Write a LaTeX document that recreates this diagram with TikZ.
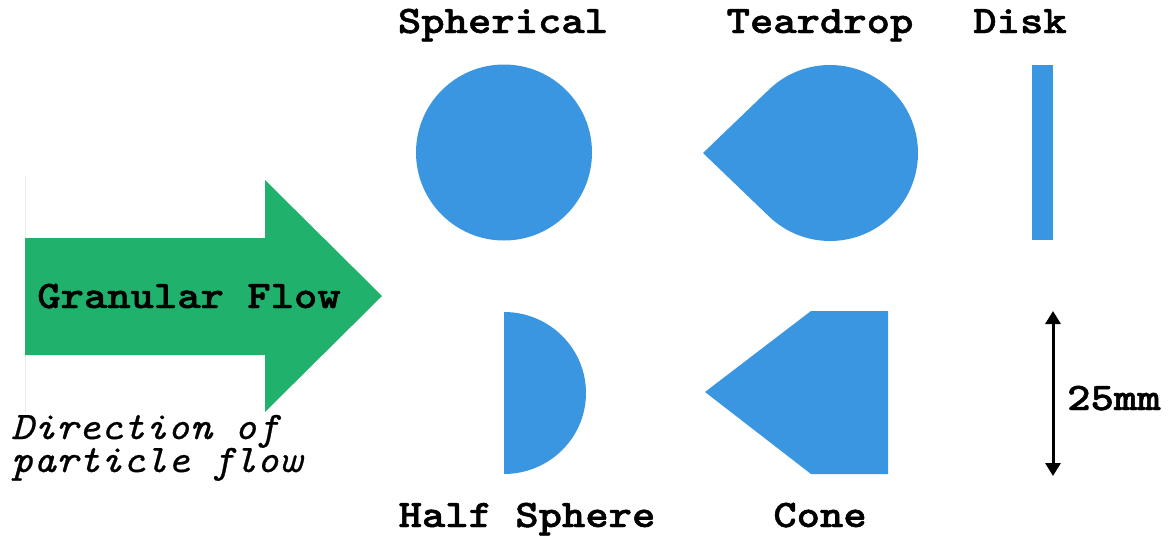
\documentclass[tikz,border=0pt]{standalone}
\usepackage{fontspec}
\newfontfamily\heavymono{lmmonolt10-bold.otf}[FakeBold=1.2]
\newfontfamily\slantmono{lmmono10-italic.otf}[FakeBold=0.6]
\usetikzlibrary{arrows.meta,calc}
\definecolor{shapeblue}{RGB}{59,150,225}
\definecolor{flowgreen}{RGB}{32,178,108}
\newcommand\widetxt[1]{\scalebox{1.14}[1]{#1}}
\newcommand\slanttxt[1]{\scalebox{1.09}[1]{#1}}
\tikzset{
  particle/.style={fill=shapeblue, draw=none},
  lbl/.style={font=\heavymono\fontsize{39}{40}\selectfont, inner sep=0pt, anchor=base},
  ilbl/.style={font=\slantmono\fontsize{39}{33}\selectfont, inner sep=0pt, align=left},
  dim/.style={line width=3pt, {Triangle[length=13pt,width=15pt]}-{Triangle[length=13pt,width=15pt]}}
}
\begin{document}
\begin{tikzpicture}[x=1pt,y=-1pt]
\useasboundingbox (0,0) rectangle (1168,538);
% faint guide line
\draw[black!8, line width=0.8pt] (25,176) -- (25,412);
% green arrow
\fill[flowgreen] (25,238) -- (265,238) -- (265,180) -- (382,296) -- (265,412) -- (265,355) -- (25,355) -- cycle;
\node[lbl] (gf) at (189,308) {\widetxt{Granular Flow}};
\node[ilbl, anchor=base west] (dir) at (11,472) {\slanttxt{Direction of}\\\slanttxt{particle flow}};
% spherical
\fill[particle] (504,152.5) circle[radius=88];
\node[lbl] (sph) at (503,33) {\widetxt{Spherical}};
% teardrop
\fill[particle] (703,153) -- ($(830,153)+(226.1:88)$) arc[start angle=226.1, end angle=493.9, radius=88] -- cycle;
\node[lbl] (tear) at (820,33) {\widetxt{Teardrop}};
% disk
\fill[particle] (1032,65) rectangle (1053,240);
\node[lbl] (disk) at (1020,33) {\widetxt{Disk}};
% half sphere
\fill[particle] (504,312) arc[start angle=270, end angle=450, x radius=82, y radius=81] -- cycle;
\node[lbl] (half) at (527,527) {\widetxt{Half Sphere}};
% cone
\fill[particle] (705,392) -- (811,311) -- (888,311) -- (888,474) -- (811,474) -- cycle;
\node[lbl] (cone) at (820,527) {\widetxt{Cone}};
% dimension
\coordinate (dtop) at (1053,311);
\coordinate (dbot) at (1053,476);
\draw[dim] (dtop) -- (dbot);
\node[lbl, anchor=base west] (mm) at (1067,410) {\widetxt{25mm}};
\end{tikzpicture}
\end{document}
